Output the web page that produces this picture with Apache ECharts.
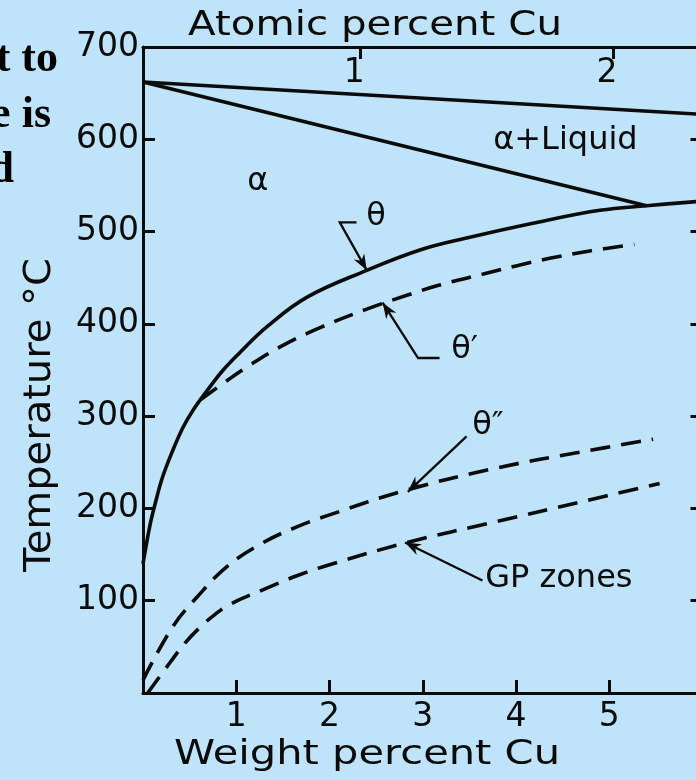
<!DOCTYPE html>
<html>
<head>
<meta charset="utf-8">
<script src="https://cdn.jsdelivr.net/npm/echarts@6/dist/echarts.min.js"></script>
<style>
  html, body { margin: 0; padding: 0; background: #bfe4f9; }
  #chart { width: 696px; height: 780px; }
</style>
</head>
<body>
<div id="chart"></div>
<script>
// Aluminium-rich end of the Al–Cu phase diagram with the metastable solvus lines
// (composition in weight percent Cu, temperature in °C)

const liquidusWt = [0, 6.0];
const liquidusT = [662, 627];

const solidusWt = [0, 5.40];
const solidusT = [662, 528];

const thetaWt = [0, 0.075, 0.13, 0.21, 0.32, 0.43, 0.54, 0.69, 0.86, 1.04, 1.33, 1.76, 2.40, 2.97, 3.47, 4.18, 4.90, 5.40, 6.0];
const thetaT  = [140, 182, 205, 234, 263, 288, 307, 328, 350, 369, 397, 429, 458, 480, 493, 509, 523, 528, 533];

const thetaPrimeWt = [0.62, 0.95, 1.11, 1.47, 1.90, 2.40, 2.83, 3.18, 3.65, 4.01, 4.36, 4.79, 5.27];
const thetaPrimeT  = [318, 342, 353, 375, 396, 416, 431, 442, 454, 463, 471, 479, 486];

const thetaDoublePrimeWt = [0, 0.32, 0.58, 0.90, 1.29, 1.65, 2.0, 2.83, 3.80, 4.69, 5.47];
const thetaDoublePrimeT  = [14, 72, 104, 137, 163, 180, 193, 220, 244, 261, 275];

const gpZonesWt = [0.05, 0.29, 0.45, 0.61, 0.77, 0.93, 1.29, 1.65, 2.0, 2.83, 3.80, 4.69, 5.54];
const gpZonesT  = [0, 33, 54, 71, 85, 96, 112, 127, 139, 163, 186, 207, 227];

// axis ticks
const weightTicks = [1, 2, 3, 4, 5];
const tempTicks = [100, 200, 300, 400, 500, 600, 700];
const tempInnerTicks = [100, 200, 300, 400, 500, 600];
const atomicTicks = [1, 2];
const atomicTickWt = [2.33, 5.04];

// region and curve labels, anchored in (wt% Cu, °C)
const labelTexts = ['α', 'α+Liquid', 'θ', 'θ′', 'θ″', 'GP zones'];
const labelWt = [1.23, 4.53, 2.50, 3.45, 3.70, 3.67];
const labelT  = [554, 599, 516, 372, 290, 124];

// leader lines, last point is the arrow tip
const leaderPaths = [
  [[2.29, 510], [2.11, 510], [2.40, 458]],
  [[3.18, 363], [2.95, 363], [2.57, 423]],
  [[3.47, 278], [2.84, 218]],
  [[3.64, 122], [2.81, 163]]
];

const INK = '#0b0b0b';
const SANS = '"DejaVu Sans", "Liberation Sans", sans-serif';
const pairs = (xs, ys) => xs.map((x, i) => [x, ys[i]]);

const chart = echarts.init(document.getElementById('chart'), null, { renderer: 'canvas' });

const solid = { color: INK, width: 3.6 };
const dashed = { color: INK, width: 3.6, type: [20, 11] };

function curve(name, xs, ys, style, smooth) {
  return {
    name, type: 'line', xAxisIndex: 0, yAxisIndex: 0,
    data: pairs(xs, ys),
    showSymbol: false, symbol: 'none',
    smooth: smooth,
    lineStyle: style, silent: true, animation: false
  };
}

const axisLine = { show: true, onZero: false, lineStyle: { color: INK, width: 3 } };
const tickStyle = { color: INK, width: 3 };

function fitScale(text, font, width) {
  const ctx = document.createElement('canvas').getContext('2d');
  ctx.font = font;
  return width / ctx.measureText(text).width;
}

const titleFont = '34px "DejaVu Sans"';
const yTitleFont = '37px "DejaVu Sans"';
const slideFont = 'bold 44px "Liberation Serif"';

chart.setOption({
  backgroundColor: '#bfe4f9',
  animation: false,
  grid: { left: 143, top: 47, width: 559.5, height: 646, containLabel: false, outerBoundsMode: 'none' },
  xAxis: [
    {
      type: 'value', position: 'bottom', min: 0, max: 6, interval: 1,
      axisLine,
      axisTick: { show: true, inside: true, length: 13, lineStyle: tickStyle, customValues: weightTicks },
      axisLabel: { show: true, customValues: weightTicks, color: INK, fontSize: 33, fontFamily: SANS, margin: 8 },
      splitLine: { show: false }
    },
    {
      type: 'value', position: 'top', min: 0, max: 6,
      axisLine,
      axisTick: { show: true, inside: true, length: 12, lineStyle: tickStyle, customValues: atomicTickWt },
      axisLabel: {
        show: true, inside: true, customValues: atomicTickWt, margin: 10,
        color: INK, fontSize: 33, fontFamily: SANS, padding: [0, 12, 0, 0],
        formatter: v => {
          let best = 0;
          atomicTickWt.forEach((w, i) => { if (Math.abs(w - v) < Math.abs(atomicTickWt[best] - v)) best = i; });
          return String(atomicTicks[best]);
        }
      },
      splitLine: { show: false }
    }
  ],
  yAxis: [
    {
      type: 'value', position: 'left', min: 0, max: 700, interval: 100,
      axisLine,
      axisTick: { show: true, inside: true, length: 12, lineStyle: tickStyle, customValues: tempInnerTicks },
      axisLabel: { show: true, customValues: tempTicks, color: INK, fontSize: 33, fontFamily: SANS, margin: 4 },
      splitLine: { show: false }
    },
    {
      type: 'value', position: 'right', min: 0, max: 700, interval: 100,
      axisLine,
      axisTick: { show: true, inside: true, length: 12, lineStyle: tickStyle, customValues: tempInnerTicks },
      axisLabel: { show: false },
      splitLine: { show: false }
    }
  ],
  series: [
    curve('liquidus', liquidusWt, liquidusT, solid, false),
    curve('solidus', solidusWt, solidusT, solid, false),
    curve('θ', thetaWt, thetaT, solid, 0.4),
    curve('θ′', thetaPrimeWt, thetaPrimeT, dashed, 0.4),
    curve('θ″', thetaDoublePrimeWt, thetaDoublePrimeT, dashed, 0.4),
    curve('GP zones', gpZonesWt, gpZonesT, dashed, 0.4),
    {
      name: 'leaders', type: 'custom', xAxisIndex: 0, yAxisIndex: 0,
      silent: true, animation: false, clip: false,
      data: leaderPaths.map(p => p[p.length - 1]),
      encode: { x: 0, y: 1 },
      renderItem(params, api) {
        const pts = leaderPaths[params.dataIndex].map(p => api.coord(p));
        const tip = pts[pts.length - 1];
        const prev = pts[pts.length - 2];
        const ang = Math.atan2(tip[1] - prev[1], tip[0] - prev[0]);
        const back = (len, da) => [tip[0] - len * Math.cos(ang + da), tip[1] - len * Math.sin(ang + da)];
        const head = [tip, back(17, 0.36), back(11, 0), back(17, -0.36)];
        return {
          type: 'group',
          children: [
            { type: 'polyline', shape: { points: pts }, style: { stroke: INK, lineWidth: 2.3, fill: null } },
            { type: 'polygon', shape: { points: head }, style: { fill: INK } }
          ]
        };
      }
    },
    {
      name: 'labels', type: 'scatter', xAxisIndex: 0, yAxisIndex: 0,
      silent: true, animation: false, symbolSize: 0,
      itemStyle: { color: INK, opacity: 1 },
      data: labelTexts.map((t, i) => ({
        name: t, value: [labelWt[i], labelT[i]],
        label: t === 'GP zones' ? { align: 'left' } : {}
      })),
      label: {
        show: true, position: 'inside', formatter: '{b}',
        color: INK, fontFamily: SANS, fontSize: 32, textBorderWidth: 0
      }
    }
  ],
  graphic: [
    {
      type: 'text', x: 375, y: 26, scaleX: fitScale('Atomic percent Cu', titleFont, 374),
      style: { text: 'Atomic percent Cu', font: titleFont, fill: INK, align: 'center', verticalAlign: 'middle' }
    },
    {
      type: 'text', x: 367, y: 755, scaleX: fitScale('Weight percent Cu', titleFont, 386),
      style: { text: 'Weight percent Cu', font: titleFont, fill: INK, align: 'center', verticalAlign: 'middle' }
    },
    {
      type: 'text', x: 40, y: 415, rotation: Math.PI / 2, scaleX: fitScale('Temperature °C', yTitleFont, 314),
      style: { text: 'Temperature °C', font: yTitleFont, fill: INK, align: 'center', verticalAlign: 'middle' }
    },
    { type: 'text', x: 58, y: 60, style: { text: 't to', font: slideFont, fill: '#000', align: 'right', verticalAlign: 'middle' } },
    { type: 'text', x: 51, y: 116, style: { text: 'e is', font: slideFont, fill: '#000', align: 'right', verticalAlign: 'middle' } },
    { type: 'text', x: 14, y: 171, style: { text: 'd', font: slideFont, fill: '#000', align: 'right', verticalAlign: 'middle' } }
  ]
});
</script>
</body>
</html>
